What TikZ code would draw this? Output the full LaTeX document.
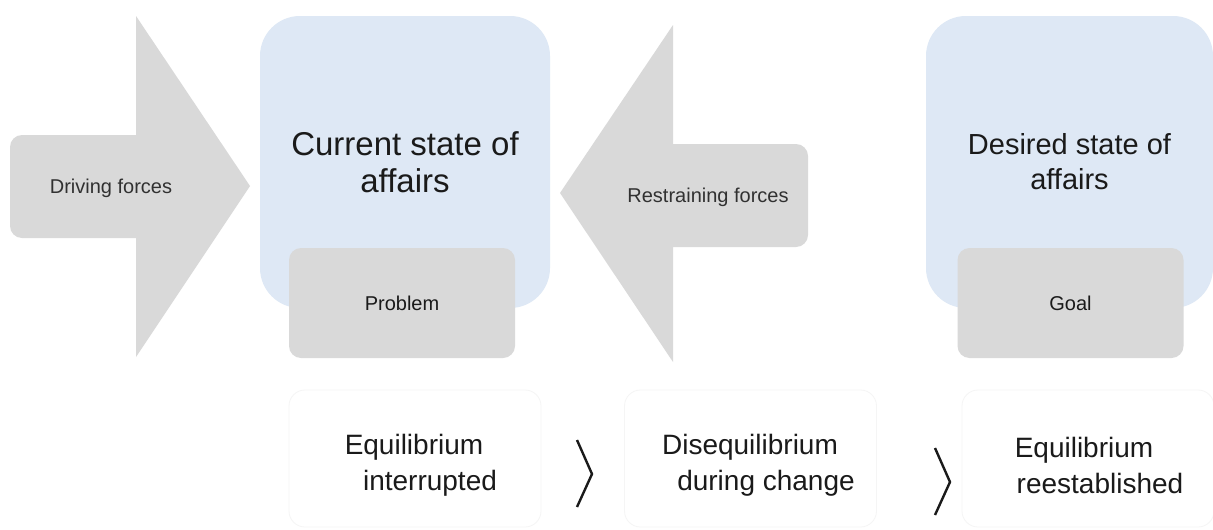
\documentclass[tikz,border=0pt]{standalone}
\usepackage{fontspec}
\setmainfont{Liberation Sans}
\definecolor{bluebg}{HTML}{DEE8F5}
\definecolor{graybg}{HTML}{D9D9D9}
\definecolor{faintline}{HTML}{F5F5F5}
\definecolor{txt}{HTML}{1A1A1A}
\begin{document}
\begin{tikzpicture}[x=1pt,y=-1pt,
  statebox/.style={fill=bluebg, rounded corners=40pt, inner sep=0pt, align=center, text=txt},
  subbox/.style={fill=graybg, rounded corners=12pt, minimum width=226pt, minimum height=110pt, inner sep=0pt, text=txt, font=\fontsize{20}{24}\selectfont},
  stagebox/.style={draw=faintline, line width=0.8pt, rounded corners=16pt, minimum width=252pt, minimum height=137pt, inner sep=0pt},
  stagetext/.style={align=center, text=txt, inner sep=0pt, font=\fontsize{28}{36}\selectfont},
  forcetext/.style={text=txt!90, inner sep=0pt, font=\fontsize{20}{24}\selectfont},
  chev/.style={draw=txt, line width=2.4pt}]
\useasboundingbox (0,0) rectangle (1213,530);
\fill[white] (0,0) rectangle (1213,530);

% Driving forces arrow
\fill[graybg, rounded corners=12pt] (10,135) rectangle (160,238);
\fill[graybg] (136,16) -- (250,186) -- (136,357) -- cycle;
\node[forcetext] (drive) at (111,188) {Driving forces};

% Restraining forces arrow
\fill[graybg, rounded corners=12pt] (650,144) rectangle (808,247);
\fill[graybg] (673,25) -- (560,193) -- (673,362) -- cycle;
\node[forcetext] (restrain) at (708,197) {Restraining forces};

% Current state
\node[statebox, minimum width=290pt, minimum height=292pt, font=\fontsize{33}{37}\selectfont] (current) at (405,162) {Current state of\\affairs};
\node[subbox] (problem) at (402,303) {Problem};

% Desired state
\node[statebox, minimum width=287pt, minimum height=292pt, font=\fontsize{29}{35}\selectfont] (desired) at (1069.5,162) {Desired state of\\affairs};
\node[subbox] (goal) at (1070.5,303) {Goal};

% Stage boxes
\node[stagebox] (s1) at (415,458.5) {};
\node[stagebox] (s2) at (750.5,458.5) {};
\node[stagebox] (s3) at (1088,458.5) {};
\node[stagetext] (t1) at (422,465) {Equilibrium\hspace*{16pt}\\\hspace*{16pt}interrupted};
\node[stagetext] (t2) at (758,465) {Disequilibrium\hspace*{16pt}\\\hspace*{16pt}during change};
\node[stagetext] (t3) at (1092,465) {Equilibrium\hspace*{16pt}\\\hspace*{16pt}reestablished};

% Chevrons
\coordinate (c1a) at (577,440); \coordinate (c1b) at (592,474); \coordinate (c1c) at (577,507);
\coordinate (c2a) at (935,448); \coordinate (c2b) at (950,482); \coordinate (c2c) at (935,515);
\draw[chev] (c1a) -- (c1b) -- (c1c);
\draw[chev] (c2a) -- (c2b) -- (c2c);
\end{tikzpicture}
\end{document}
